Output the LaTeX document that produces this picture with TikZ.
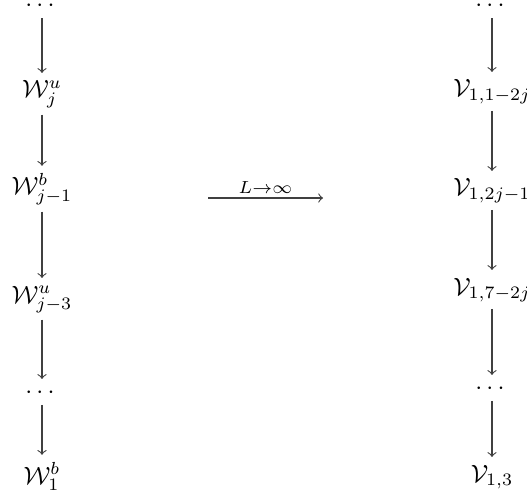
\documentclass[tikz,border=0pt]{standalone}
\usepackage{amsmath,amssymb}
\begin{document}
\begin{tikzpicture}[x=0.4pt,y=-0.4pt,
  mor/.style={->, black!75, line width=0.45pt, shorten <=2.5pt, shorten >=3pt},
  lbl/.style={inner sep=0pt, anchor=base}]
\useasboundingbox (0,0) rectangle (527,499);
% left column
\node[lbl] (l0) at (42,11.5) {$\cdots$};
\node[lbl] (l1) at (42,98) {$\mathcal{W}^u_j$};
\node[lbl] (l2) at (42,195) {$\mathcal{W}^b_{j-1}$};
\node[lbl] (l3) at (42,303) {$\mathcal{W}^u_{j-3}$};
\node[lbl] (l4) at (42,398) {$\cdots$};
\node[lbl] (l5) at (42,484) {$\mathcal{W}^b_1$};
% right column
\node[lbl] (r0) at (492,11.5) {$\cdots$};
\node[lbl] (r1) at (492,97) {$\mathcal{V}_{1,1-2j}$};
\node[lbl] (r2) at (492,196) {$\mathcal{V}_{1,2j-1}$};
\node[lbl] (r3) at (492,295) {$\mathcal{V}_{1,7-2j}$};
\node[lbl] (r4) at (492,394) {$\cdots$};
\node[lbl] (r5) at (492,482) {$\mathcal{V}_{1,3}$};
% vertical arrows
\draw[mor] (l0) -- (l1);
\draw[mor] (l1) -- (l2);
\draw[mor] (l2) -- (l3);
\draw[mor] (l3) -- (l4);
\draw[mor] (l4) -- (l5);
\draw[mor] (r0) -- (r1);
\draw[mor] (r1) -- (r2);
\draw[mor] (r2) -- (r3);
\draw[mor] (r3) -- (r4);
\draw[mor] (r4) -- (r5);
% limit arrow
\coordinate (ha) at (208,198);
\coordinate (hb) at (323,198);
\draw[->, black!75, line width=0.45pt] (ha) -- (hb)
  node[midway, above=1.5pt, black, inner sep=0pt] {$\scriptstyle L\to\infty$};
\end{tikzpicture}
\end{document}
